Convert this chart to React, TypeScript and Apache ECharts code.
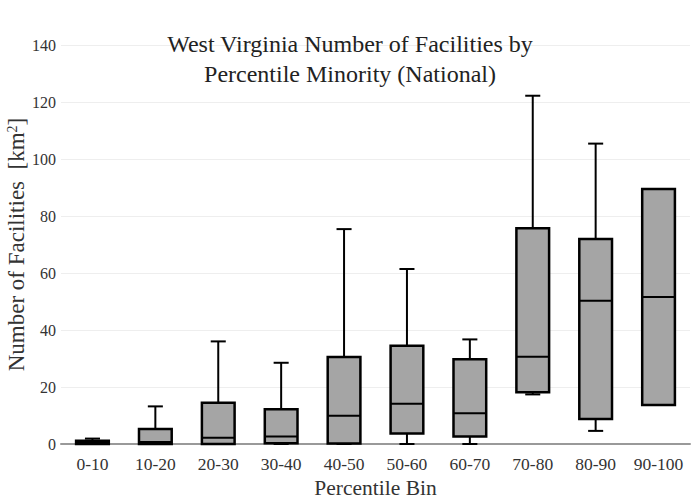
import React, { useEffect, useRef } from "react";
import * as echarts from "echarts";

const categories = ["0-10", "10-20", "20-30", "30-40", "40-50", "50-60", "60-70", "70-80", "80-90", "90-100"];
const minValues = [0, 0, 0, 0, 0, 0, 0, 17.4, 4.6, 13.7];
const q1Values = [0, 0, 0, 0.3, 0.2, 3.7, 2.6, 18.2, 8.8, 13.7];
const medianValues = [0.4, 0.7, 2.2, 2.6, 9.9, 14.1, 10.8, 30.6, 50.3, 51.6];
const q3Values = [1.1, 5.3, 14.5, 12.2, 30.5, 34.5, 29.7, 75.7, 71.9, 89.5];
const maxValues = [1.9, 13.2, 36, 28.5, 75.4, 61.4, 36.7, 122.2, 105.4, 89.5];
const yTicks = { min: 0, max: 140, interval: 20 };

const FONT = "Liberation Serif";

export default function App() {
  const ref = useRef<HTMLDivElement>(null);
  useEffect(() => {
    if (!ref.current) return;
    const chart = echarts.init(ref.current, null, { renderer: "svg" });
    const data = categories.map((_, i) => [i, minValues[i], q1Values[i], medianValues[i], q3Values[i], maxValues[i]]);
    chart.setOption({
      animation: false,
      backgroundColor: "#fff",
      textStyle: { fontFamily: FONT },
      title: {
        text: "West Virginia Number of Facilities by\nPercentile Minority (National)",
        left: 345,
        top: 24,
        textAlign: "center",
        textStyle: { fontFamily: FONT, fontSize: 24, fontWeight: "normal", color: "#222", lineHeight: 30 },
      },
      grid: { left: 61, right: 10, top: 45, bottom: 56, containLabel: false, outerBoundsMode: "none" },
      xAxis: {
        type: "category",
        data: categories,
        boundaryGap: true,
        name: "Percentile Bin",
        nameLocation: "middle",
        nameGap: 33,
        nameMoveOverlap: false,
        nameTextStyle: { fontFamily: FONT, fontSize: 21.5, color: "#333" },
        axisTick: { show: false },
        axisLine: { lineStyle: { color: "#999", width: 2 } },
        axisLabel: { fontFamily: FONT, fontSize: 17.5, color: "#333", margin: 11, interval: 0, hideOverlap: false },
        splitLine: { show: false },
      },
      yAxis: {
        type: "value",
        min: yTicks.min,
        max: yTicks.max,
        interval: yTicks.interval,
        name: "Number of Facilities  [km{sup|2}]",
        nameLocation: "middle",
        nameGap: 33,
        nameMoveOverlap: false,
        nameRotate: 90,
        nameTextStyle: {
          fontFamily: FONT,
          fontSize: 23,
          color: "#333",
          rich: { sup: { fontFamily: FONT, fontSize: 14, color: "#333", verticalAlign: "top", padding: [0, 0, 9, 0] } },
        },
        axisLine: { show: false },
        axisTick: { show: false },
        axisLabel: { fontFamily: FONT, fontSize: 16, color: "#333", margin: 5 },
        splitLine: { lineStyle: { color: "#eee", width: 1 } },
      },
      series: [
        {
          type: "custom",
          data,
          encode: { x: 0, y: [1, 2, 3, 4, 5] },
          renderItem: (params: any, api: any) => {
            const idx = api.value(0);
            const vMin = api.value(1);
            const vQ1 = api.value(2);
            const vMed = api.value(3);
            const vQ3 = api.value(4);
            const vMax = api.value(5);
            const band = api.size([1, 0])[0];
            const bw = band * 0.52;
            const cap = bw * 0.46;
            const pMin = api.coord([idx, vMin]);
            const pQ1 = api.coord([idx, vQ1]);
            const pMed = api.coord([idx, vMed]);
            const pQ3 = api.coord([idx, vQ3]);
            const pMax = api.coord([idx, vMax]);
            const cx = pMed[0];
            const stroke = { stroke: "#000", lineWidth: 2 };
            const children: any[] = [];
            if (vMax > vQ3) {
              children.push({ type: "line", shape: { x1: cx, y1: pQ3[1], x2: cx, y2: pMax[1] }, style: stroke });
              children.push({ type: "line", shape: { x1: cx - cap / 2, y1: pMax[1], x2: cx + cap / 2, y2: pMax[1] }, style: stroke });
            }
            if (vQ1 > vMin) {
              children.push({ type: "line", shape: { x1: cx, y1: pQ1[1], x2: cx, y2: pMin[1] }, style: stroke });
            }
            if (vQ1 > vMin || vMin === 0) {
              children.push({ type: "line", shape: { x1: cx - cap / 2, y1: pMin[1], x2: cx + cap / 2, y2: pMin[1] }, style: stroke });
            }
            children.push({
              type: "rect",
              shape: { x: cx - bw / 2, y: pQ3[1], width: bw, height: Math.max(pQ1[1] - pQ3[1], 1) },
              style: { fill: "#a5a5a5", stroke: "#000", lineWidth: 2.5 },
            });
            children.push({ type: "line", shape: { x1: cx - bw / 2, y1: pMed[1], x2: cx + bw / 2, y2: pMed[1] }, style: stroke });
            return { type: "group", children };
          },
        },
      ],
    });
    return () => chart.dispose();
  }, []);
  return <div ref={ref} style={{ width: 700, height: 500, position: "absolute", left: 0, top: 0 }} />;
}
